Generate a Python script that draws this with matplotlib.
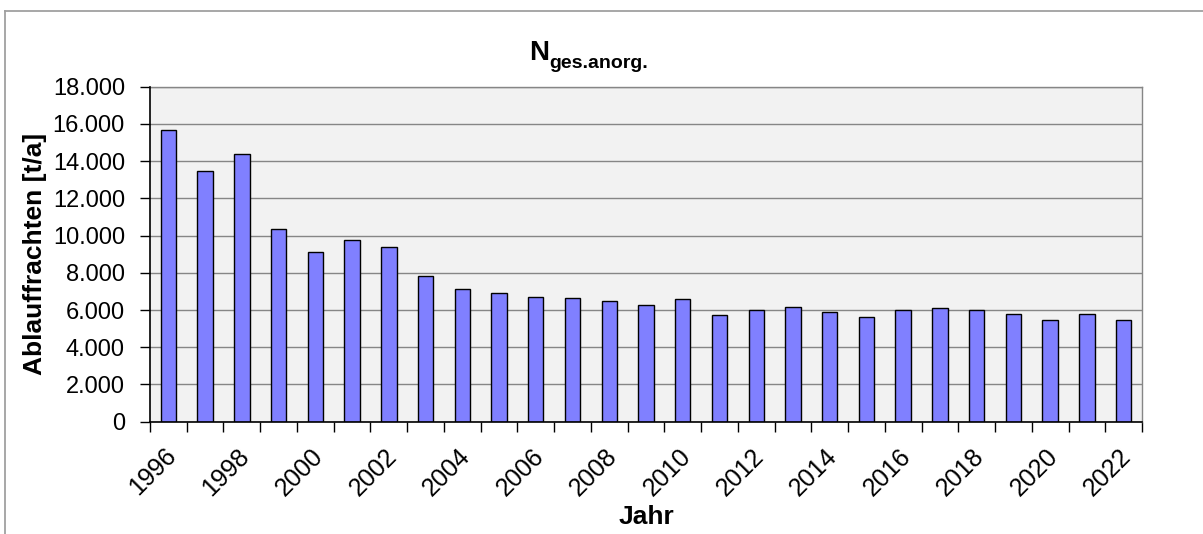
import matplotlib.pyplot as plt
from matplotlib.lines import Line2D
from matplotlib.ticker import FixedLocator, FuncFormatter
from matplotlib.transforms import ScaledTranslation
import numpy as np

plt.rcParams['font.family'] = ['Liberation Sans', 'DejaVu Sans']

# Ablauffrachten N ges. anorganisch, t/a
jahre = list(range(1996, 2023))
frachten = [15700, 13450, 14370, 10340, 9110, 9750, 9360, 7820, 7120, 6900,
            6690, 6670, 6490, 6260, 6610, 5740, 6020, 6150, 5910, 5630,
            6020, 6110, 5990, 5810, 5480, 5770, 5450]
y_ticks = list(range(0, 18001, 2000))

W, H = 1203, 534
fig = plt.figure(figsize=(W / 100, H / 100), dpi=100)
ax = fig.add_axes([150 / W, 1 - 421.7 / H, (1142 - 150) / W, (421.7 - 86.7) / H])

x = np.arange(len(jahre))
ax.set_facecolor('#F2F2F2')
ax.bar(x, frachten, width=0.42, color='#8080FF', edgecolor='black', linewidth=1.0, zorder=3)

ax.set_xlim(-0.5, len(jahre) - 0.5)
ax.set_ylim(0, 18000)
ax.set_yticks(y_ticks)
ax.yaxis.set_major_formatter(FuncFormatter(lambda v, p: f"{v:,.0f}".replace(",", ".")))
ax.grid(axis='y', color='#868686', linewidth=1.0, zorder=1)

# Beschriftung jedes zweite Jahr, Teilstriche an den Kategoriegrenzen
ax.set_xticks(x[::2])
ax.set_xticklabels([str(j) for j in jahre[::2]], rotation=45, ha='right', va='center',
                   rotation_mode='anchor')
ax.xaxis.set_minor_locator(FixedLocator(np.arange(-0.5, len(jahre), 1.0)))
ax.tick_params(axis='x', which='major', length=0, pad=22, labelsize=18)
ax.tick_params(axis='x', which='minor', length=7, width=1.0, direction='out', color='black')
ax.tick_params(axis='y', length=7, width=1.0, direction='out', pad=11, labelsize=17)

shift = ScaledTranslation(4 / 100, 0, fig.dpi_scale_trans)
for lbl in ax.get_xticklabels():
    lbl.set_transform(lbl.get_transform() + shift)

for side in ['left', 'bottom']:
    ax.spines[side].set_color('black')
    ax.spines[side].set_linewidth(1.2)
    ax.spines[side].set_zorder(4)
for side in ['top', 'right']:
    ax.spines[side].set_color('#868686')
    ax.spines[side].set_linewidth(1.0)

# Titel mit tiefgestelltem Index
fig.text(549 / W, 1 - 60 / H, 'N', fontsize=20, fontweight='bold', ha='right', va='baseline')
fig.text(549 / W, 1 - 68 / H, 'ges.anorg.', fontsize=14, fontweight='bold', ha='left', va='baseline')

fig.text(35 / W, 1 - 254 / H, 'Ablauffrachten [t/a]', fontsize=19, fontweight='bold',
         rotation=90, ha='center', va='center')
fig.text(646 / W, 1 - 517 / H, 'Jahr', fontsize=19, fontweight='bold', ha='center', va='center')

# Rahmen des Diagrammbereichs
fig.add_artist(Line2D([5 / W, 1], [1 - 11 / H, 1 - 11 / H], transform=fig.transFigure,
                      color='#A0A0A0', linewidth=1.3))
fig.add_artist(Line2D([5 / W, 5 / W], [0, 1 - 11 / H], transform=fig.transFigure,
                      color='#A0A0A0', linewidth=1.3))

fig.savefig('out.png', dpi=100)
